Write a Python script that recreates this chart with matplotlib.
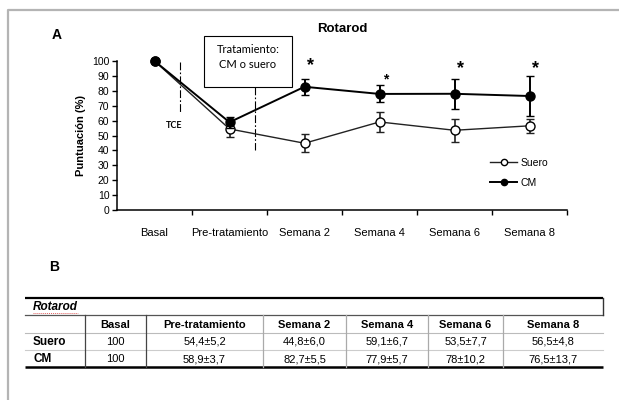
import numpy as np
import matplotlib.pyplot as plt
from matplotlib.patches import Rectangle
from matplotlib.lines import Line2D

# ---------------- datos ----------------
categorias = ['Basal', 'Pre-tratamiento', 'Semana 2', 'Semana 4', 'Semana 6', 'Semana 8']
suero_media = [100, 54.4, 44.8, 59.1, 53.5, 56.5]
suero_de = [0, 5.2, 6.0, 6.7, 7.7, 4.8]
cm_media = [100, 58.9, 82.7, 77.9, 78.0, 76.5]
cm_de = [0, 3.7, 5.5, 5.7, 10.2, 13.7]

# asteriscos de significancia (columna, altura)
estrellas_col = [2, 3, 4, 5]
estrellas_y = [94, 85, 92, 92]
estrellas_tam = [13, 10, 13, 13]

# tabla B
fila_suero = ['100', '54,4±5,2', '44,8±6,0', '59,1±6,7', '53,5±7,7', '56,5±4,8']
fila_cm = ['100', '58,9±3,7', '82,7±5,5', '77,9±5,7', '78±10,2', '76,5±13,7']

ARIAL = 'Liberation Sans'
CALIBRI = 'Lato'
plt.rcParams['font.family'] = [ARIAL, 'DejaVu Sans']

W, H = 619, 400
fig = plt.figure(figsize=(W / 100, H / 100), dpi=100)

# capa en pixeles para marco, anotaciones y tabla
ov = fig.add_axes([0, 0, 1, 1], zorder=0)
ov.set_xlim(0, W)
ov.set_ylim(H, 0)
ov.axis('off')

# marco gris
ov.plot([8, 8, W], [H, 10, 10], color='#b4b4b4', lw=1.6, solid_capstyle='butt')

# ---------------- grafico A ----------------
ax = fig.add_axes([117 / W, 1 - 210 / H, 450 / W, 149 / H], zorder=2)
ax.set_facecolor('none')
x = np.arange(len(categorias)) + 0.5

ax.errorbar(x, suero_media, yerr=suero_de, color='#222222', lw=1.0,
            elinewidth=1.2, capsize=3, capthick=1.0, marker='o', ms=6.5,
            mfc='white', mec='black', mew=1.0, clip_on=False, zorder=3)
ax.errorbar(x, cm_media, yerr=cm_de, color='black', lw=1.4,
            elinewidth=1.4, capsize=3, capthick=1.0, marker='o', ms=6.5,
            mfc='black', mec='black', clip_on=False, zorder=4)

for c, yy, s in zip(estrellas_col, estrellas_y, estrellas_tam):
    ax.text(c + 0.58, yy, '*', fontsize=s, fontweight='bold', ha='center',
            va='baseline', clip_on=False)

ax.set_xlim(0, 6)
ax.set_ylim(0, 100)
ax.set_yticks(range(0, 101, 10))
ax.set_xticks(range(1, 7))
ax.set_xticklabels([])
ax.set_xticks(x, minor=True)
ax.set_xticklabels(categorias, minor=True, fontsize=8)
ax.tick_params(axis='x', which='major', direction='out', length=3.5, width=1)
ax.tick_params(axis='x', which='minor', length=0, pad=13)
ax.tick_params(axis='y', direction='out', length=3.5, width=1, labelsize=7.5, pad=2)
for s in ['top', 'right']:
    ax.spines[s].set_visible(False)
for s in ['left', 'bottom']:
    ax.spines[s].set_linewidth(1.1)
ax.set_ylabel('Puntuación (%)', fontsize=8, fontweight='bold', labelpad=4)
ax.set_title('Rotarod', fontsize=9.5, fontweight='bold', pad=21)

handles = [
    Line2D([], [], color='#222222', lw=1.0, marker='o', ms=4.5, mfc='white', mec='black'),
    Line2D([], [], color='black', lw=1.4, marker='o', ms=4.5, mfc='black', mec='black'),
]
ax.legend(handles, ['Suero', 'CM'], loc='upper left',
          bbox_to_anchor=(490 / W, 1 - 158 / H),
          bbox_transform=fig.transFigure, frameon=False, fontsize=7.5,
          handlelength=2.6, handletextpad=0.3, labelspacing=0.95,
          borderpad=0, borderaxespad=0)

# anotaciones
ov.text(57, 35, 'A', fontsize=10, fontweight='bold', ha='center', va='center')
ov.add_patch(Rectangle((204, 36), 88, 51, fill=False, ec='black', lw=0.8))
ov.text(248, 57, 'Tratamiento:\nCM o suero', family=CALIBRI, fontsize=8,
        ha='center', va='center', linespacing=1.35)
ov.plot([180, 180], [62, 112], color='black', lw=0.8, ls=(0, (7, 2, 1.5, 2)))
ov.plot([255, 255], [87, 150], color='black', lw=0.8, ls=(0, (7, 2, 1.5, 2)))
ov.text(174, 125, 'TCE', family=CALIBRI, fontsize=6.5, fontweight='bold',
        ha='center', va='center')

# ---------------- tabla B ----------------
ov.text(54, 267, 'B', fontsize=10, fontweight='bold', ha='center', va='center')
col = [25, 85, 146, 263, 346, 428, 503, 603]
fil = [298, 315, 333, 350, 367]

ov.plot([col[0], col[-1]], [fil[0], fil[0]], color='black', lw=1.6, solid_capstyle='butt')
ov.plot([col[0], col[-1]], [fil[1], fil[1]], color='#555555', lw=0.9)
ov.plot([col[0], col[-1]], [fil[2], fil[2]], color='#bbbbbb', lw=0.8)
ov.plot([col[0], col[-1]], [fil[3], fil[3]], color='#cccccc', lw=0.8)
ov.plot([col[0], col[-1]], [fil[4], fil[4]], color='black', lw=1.8, solid_capstyle='butt')
ov.plot([col[-1], col[-1]], [fil[0], fil[1]], color='#333333', lw=1.0)
for i, cx in enumerate(col[1:-1]):
    ov.plot([cx, cx], [fil[1], fil[4]], color='#444444' if i < 2 else '#aaaaaa', lw=0.9)

ov.text(33, (fil[0] + fil[1]) / 2 + 0.5, 'Rotarod', fontsize=8.5, fontweight='bold',
        style='italic', ha='left', va='center')
ov.plot([33, 78], [fil[1] - 2, fil[1] - 2], color='#e06060', lw=0.7, ls=(0, (1, 1)))

yc = [(fil[i] + fil[i + 1]) / 2 + 0.5 for i in range(1, 4)]
for j, nombre in enumerate(categorias):
    cx = (col[j + 1] + col[j + 2]) / 2
    ov.text(cx, yc[0], nombre, fontsize=8, fontweight='bold', ha='center', va='center')
    ov.text(cx, yc[1], fila_suero[j], fontsize=8, ha='center', va='center')
    ov.text(cx, yc[2], fila_cm[j], fontsize=8, ha='center', va='center')
ov.text(33, yc[1], 'Suero', fontsize=8.5, fontweight='bold', ha='left', va='center')
ov.text(33, yc[2], 'CM', fontsize=8.5, fontweight='bold', ha='left', va='center')

fig.savefig('out.png', dpi=100, facecolor='white')
